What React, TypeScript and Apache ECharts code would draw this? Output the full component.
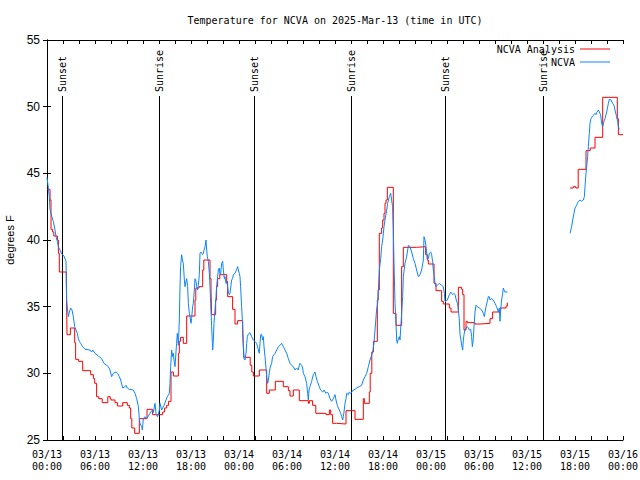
import React, { useEffect, useRef } from 'react';
import * as echarts from 'echarts';

const titleText = 'Temperature for NCVA on 2025-Mar-13 (time in UTC)';
const yAxisName = 'degrees F';
const analysisName = 'NCVA Analysis';
const obsName = 'NCVA';
const monthLabel = '03';
const firstDay = 13;
const hourMin = 0;
const hourMax = 72;
const hourStep = 6;
const tempMin = 25;
const tempMax = 55;
const tempStep = 5;

// Hours since 2025-03-13 00:00 UTC; NCVA Analysis (stepped), value holds from the given hour
const redHours = [
  0, 0.38, 0.5, 0.7, 0.85, 1.3, 1.42, 1.54, 2.42, 2.5, 2.92, 3.46, 3.58, 3.96, 4.46, 5.46, 5.8, 5.96,
  6.2, 6.46, 6.9, 7.6, 7.9, 8.0, 8.5, 8.8, 9.46, 10.04, 10.3, 10.46, 10.6, 10.96, 11.54, 12.5, 13.2,
  14.46, 14.7, 14.96, 15.2, 15.5, 15.8, 16.42, 16.54, 16.7, 17.04, 17.46, 18.5, 18.6, 19.0, 19.46,
  19.6, 20.375, 20.5, 20.58, 21.08, 21.2, 21.33, 21.6, 22.46, 22.58, 23.2, 23.5, 23.83, 24.46, 24.54,
  24.6, 25.4, 25.6, 25.8, 26.54, 27.46, 27.79, 28.54, 29.54, 30.17, 30.375, 30.79, 31.54, 32.67,
  32.79, 33.2, 33.6, 34.875, 35.29, 35.46, 35.7, 36.2, 37.375, 38.5, 39.54, 39.67, 40.29, 40.4,
  40.6, 40.8, 41.29, 41.4, 41.54, 41.83, 41.96, 42.125, 42.25, 42.375, 42.54, 43.29, 43.625, 44.33,
  44.54, 46.2, 47.33, 47.54, 47.67, 48.375, 48.625, 49.33, 49.54, 50.29, 50.5, 51.42, 51.83, 51.96,
  52.125, 52.375, 52.54, 53.5, 54.125, 55.375, 55.7, 56.625, 57.375, 57.54,
  57.6,
  65.375, 65.8, 66.1, 66.4, 67.375, 67.9, 68.5, 69.46, 71.29, 71.42, 72,
];
const redTemps: (number | null)[] = [
  43.8, 43.0, 40.8, 40.6, 40.3, 40.0, 39.0, 37.6, 36.7, 32.9, 33.4, 32.3, 31.05, 30.9, 30.2, 29.9, 29.6, 29.25,
  28.25, 28.1, 27.8, 28.25, 28.1, 28.0, 27.8, 27.55, 27.8, 27.6, 27.4, 26.6, 25.9, 25.5, 26.6, 27.3, 26.9,
  27.1, 27.4, 27.6, 27.9, 30.1, 29.8, 31.5, 32.4, 32.7, 32.25, 34.3, 35.5, 36.4, 36.5, 37.75,
  38.5, 37.1, 36.25, 34.4, 35.5, 36.5, 37.1, 37.4, 36.9, 35.75, 34.8, 33.7, 33.95, 33.0, 32.0,
  31.2, 30.6, 30.1, 29.8, 30.25, 28.5, 28.75, 29.4, 29.0, 28.7, 28.3, 28.75, 27.95, 27.75,
  27.95, 27.6, 27.0, 26.9, 27.25, 26.9, 26.25, 26.2, 27.2, 26.55, 28.1, 27.75, 28.6, 30.0,
  31.6, 32.4, 35.5, 36.25, 40.5, 40.9, 41.5, 42.0, 42.75, 43.0, 43.95, 34.5, 33.6, 38.0,
  39.45, 39.5, 38.9, 38.5, 38.2, 36.75, 36.2, 35.4, 35.2, 34.9, 34.6, 36.45, 36.3, 35.9,
  33.25, 33.9, 33.8, 33.7, 33.75, 34.1, 34.6, 34.9, 35.05, 35.3,
  null,
  43.9, 44.0, 43.9, 45.3, 46.7, 46.9, 47.7, 50.7, 49.1, 47.9, 47.9,
];

// NCVA observations
const blueHours = [
  0, 0.17, 0.29, 0.375, 0.58, 0.79, 1.0, 1.125, 1.29, 1.42, 1.625, 1.83, 2.125, 2.375, 2.46, 2.54, 2.67,
  2.79, 2.96, 3.125, 3.29, 3.46, 3.625, 3.79, 3.92, 4.04, 4.21, 4.46, 4.75, 5.375, 5.58, 5.71, 6.0, 6.42,
  6.83, 7.125, 7.46, 7.67, 7.875, 8.08, 8.29, 8.625, 8.83, 9.04, 9.21, 9.46, 9.75, 9.875, 10.04, 10.29,
  10.79, 11.0, 11.21, 11.42, 11.54, 11.625, 11.83, 11.92, 12.04, 12.25, 12.46, 12.67, 12.875, 13.08,
  13.29, 13.5, 13.625, 13.79, 13.92, 14.04, 14.125, 14.33, 14.625, 14.875, 15.04, 15.29, 15.375, 15.46,
  15.58, 15.71, 15.79, 15.875, 16.0, 16.2, 16.29, 16.42, 16.54, 16.625, 16.7, 16.83, 16.92, 17.04, 17.17,
  17.25, 17.375, 17.46, 17.58, 17.67, 17.79, 17.875, 18.0, 18.08, 18.2, 18.29, 18.42, 18.5, 18.625, 18.71,
  18.83, 18.92, 19.04, 19.125, 19.25, 19.33, 19.46, 19.54, 19.625, 19.75, 19.875, 19.96, 20.04, 20.17,
  20.29, 20.375, 20.46, 20.58, 20.67, 20.71, 20.79, 20.875, 21.0, 21.125, 21.2, 21.33, 21.42, 21.54,
  21.625, 21.71, 21.83, 21.96, 22.04, 22.17, 22.25, 22.375, 22.46, 22.58, 22.67, 22.79, 22.875, 23.0,
  23.08, 23.2, 23.29, 23.5, 23.71, 23.83, 23.92, 24.04, 24.125, 24.2, 24.33, 24.46, 24.54, 24.625, 24.75,
  24.875, 24.96, 25.04, 25.17, 25.375, 25.58, 25.79, 26.0, 26.2, 26.42, 26.54, 26.625, 26.71, 26.83,
  26.96, 27.04, 27.125, 27.25, 27.375, 27.46, 27.58, 27.67, 27.79, 27.875, 28.08, 28.2, 28.5, 28.71,
  28.92, 29.125, 29.33, 29.54, 29.75, 29.96, 30.17, 30.375, 30.58, 30.79, 31.0, 31.2, 31.4, 31.54,
  31.625, 31.83, 31.96, 32.04, 32.25, 32.46, 32.58, 32.67, 32.75, 32.875, 33.08, 33.29, 33.5, 33.625,
  33.79, 34.04, 34.2, 34.46, 34.625, 34.875, 35.04, 35.17, 35.375, 35.58, 35.79, 36.0, 36.125, 36.29,
  36.42, 36.54, 36.71, 36.83, 36.96, 37.04, 37.125, 37.25, 37.375, 37.46, 37.67, 37.79, 37.96, 38.29,
  38.5, 38.71, 39.04, 39.33, 39.54, 39.75, 39.96, 40.17, 40.375, 40.71, 40.875, 41.0, 41.2, 41.33,
  41.42, 41.54, 41.71, 41.83, 41.96, 42.125, 42.25, 42.46, 42.58, 42.79, 42.96, 43.08, 43.2, 43.29,
  43.375, 43.5, 43.625, 43.71, 43.79, 43.92, 44.04, 44.125, 44.2, 44.33, 44.46, 44.54, 44.75, 44.96,
  45.17, 45.375, 45.58, 45.79, 46.0, 46.2, 46.42, 46.625, 46.83, 47.04, 47.125, 47.25, 47.375, 47.54,
  47.67, 47.79, 47.96, 48.08, 48.2, 48.29, 48.42, 48.5, 48.625, 48.79, 49.04, 49.33, 49.54, 49.67,
  49.75, 49.875, 50.04, 50.29, 50.46, 50.58, 50.71, 50.875, 51.0, 51.2, 51.33, 51.42, 51.54, 51.625,
  51.75, 51.83, 51.96, 52.04, 52.125, 52.25, 52.375, 52.54, 52.67, 52.79, 52.96, 53.08, 53.17, 53.29,
  53.375, 53.5, 53.625, 53.79, 54.04, 54.33, 54.54, 54.67, 54.75, 54.875, 55.04, 55.17, 55.29, 55.375,
  55.58, 55.79, 56.0, 56.2, 56.33, 56.42, 56.54, 56.625, 56.71, 56.83, 56.96, 57.04, 57.125, 57.25,
  57.54,
  60,
  65.375, 65.58, 65.71, 65.875, 66.0, 66.2, 66.42, 66.625, 66.83, 67.04, 67.17, 67.25, 67.375, 67.46,
  67.58, 67.67, 67.79, 67.875, 68.0, 68.2, 68.375, 68.5, 68.625, 68.71, 68.92, 69.04, 69.2, 69.33,
  69.46, 69.625, 69.75, 69.96, 70.17, 70.29, 70.5, 70.71, 70.875, 71.0, 71.2, 71.33, 71.42, 71.54,
];
const blueTemps: (number | null)[] = [
  44.7, 43.9, 43.25, 42.3, 41.8, 41.4, 40.75, 40.25, 39.9, 39.5, 39.25, 38.95, 38.8, 38.4, 35.5, 34.9, 34.25,
  34.6, 34.9, 34.75, 34.25, 33.5, 33.25, 33.0, 32.6, 32.4, 32.25, 32.0, 31.8, 31.75, 31.6, 31.75, 31.5, 31.3,
  31.1, 30.75, 30.6, 30.5, 30.25, 29.75, 30.0, 30.1, 30.0, 29.75, 29.5, 28.9, 29.0, 29.1, 28.9, 28.8,
  28.75, 28.5, 28.1, 27.5, 26.6, 26.25, 26.0, 25.75, 26.6, 26.75, 26.6, 26.8, 27.0, 27.2,
  27.05, 27.75, 27.0, 26.75, 26.9, 27.25, 27.75, 27.25, 27.6, 28.0, 28.25, 28.5, 29.25, 30.5,
  31.75, 31.25, 31.5, 31.0, 30.5, 32.25, 33.0, 32.1, 34.0, 36.5, 38.0, 38.9, 38.5, 38.25, 37.0,
  36.5, 36.9, 37.1, 36.5, 35.25, 34.5, 34.25, 33.75, 34.1, 35.0, 35.25, 36.25, 37.1, 36.9, 36.5,
  36.25, 36.6, 37.4, 39.0, 39.1, 39.0, 38.9, 39.0, 39.25, 39.5, 40.0, 39.25, 38.75, 38.4,
  37.5, 36.5, 35.25, 33.5, 32.25, 31.75, 32.5, 33.75, 34.75, 35.75, 36.5, 37.25, 37.75, 37.9,
  37.4, 37.5, 38.25, 38.4, 37.75, 37.1, 37.25, 36.75, 36.9, 36.5, 36.1, 35.9, 36.0, 36.6,
  37.0, 37.1, 37.4, 37.5, 37.8, 38.0, 37.75, 37.5, 37.25, 36.5, 35.0, 33.5, 32.25, 31.1, 31.0,
  31.5, 32.25, 32.75, 32.95, 33.05, 32.75, 32.5, 32.4, 32.25, 31.75, 31.5, 32.25, 32.9, 32.9,
  32.5, 32.75, 32.0, 31.25, 30.4, 29.75, 29.25, 29.5, 30.0, 30.4, 30.75, 31.25, 31.5, 31.75,
  32.0, 32.1, 32.25, 32.0, 31.75, 31.5, 31.1, 30.75, 30.6, 30.5, 30.25, 30.4, 30.25, 30.6,
  30.75, 30.6, 30.4, 30.0, 29.75, 29.25, 28.5, 28.0, 28.75, 29.0, 29.4, 29.9, 30.1, 29.75,
  29.4, 29.0, 28.75, 28.6, 28.75, 28.5, 28.6, 28.5, 28.1, 27.9, 28.1, 28.4, 28.0, 27.6,
  27.4, 27.25, 27.0, 26.75, 26.5, 26.75, 27.1, 27.75, 28.1, 28.5, 28.4, 28.6, 28.5, 28.75,
  28.8, 28.9, 29.0, 29.1, 29.5, 29.75, 30.0, 30.5, 31.0, 31.6, 32.25, 33.25, 34.75, 35.25,
  36.25, 37.75, 38.6, 39.5, 40.0, 41.0, 41.5, 42.25, 42.75, 43.25, 43.5, 43.0, 42.5, 40.75,
  38.25, 35.25, 33.75, 32.5, 32.25, 32.6, 32.75, 32.5, 33.25, 34.5, 35.75, 37.25, 38.25, 38.75,
  39.6, 39.5, 39.1, 38.6, 38.25, 37.75, 37.25, 37.4, 37.75, 38.5, 40.25, 40.0, 39.5, 38.6,
  38.6, 39.0, 39.1, 38.9, 38.4, 37.75, 37.25, 36.75, 36.5, 36.6, 36.75, 36.6, 36.5, 36.0,
  35.4, 35.4, 35.5, 35.9, 36.1, 36.0, 35.9, 36.0, 35.9, 35.4, 35.25, 34.75, 34.0, 32.9,
  32.5, 32.1, 31.75, 32.5, 32.9, 33.3, 33.4, 33.5, 33.4, 33.25, 33.3, 32.75, 32.0, 32.6,
  33.5, 34.6, 35.1, 35.0, 34.9, 34.75, 34.5, 34.25, 34.6, 35.0, 35.4, 35.75, 35.75, 35.5,
  35.6, 35.5, 35.25, 35.0, 34.75, 34.6, 34.9, 33.9, 34.75, 35.5, 36.0, 36.4, 36.25, 36.1,
  36.1,
  null,
  40.5, 41.0, 41.5, 42.0, 42.4, 42.6, 42.9, 43.0, 42.9, 43.0, 43.25, 44.0, 45.0, 45.5,
  46.25, 47.0, 48.0, 48.75, 49.1, 49.3, 49.4, 49.5, 49.4, 49.55, 49.75, 49.6, 49.4, 48.75,
  48.5, 48.9, 49.1, 49.6, 50.25, 50.55, 50.5, 50.25, 50.1, 49.75, 49.25, 48.9, 48.5, 48.3,
];

const sunHours = [1.93, 14.05, 25.92, 38.02, 49.8, 62.04];
const sunLabels = ['Sunset', 'Sunrise', 'Sunset', 'Sunrise', 'Sunset', 'Sunrise'];

const MONO = '"DejaVu Sans Mono", monospace';
const SANS = '"Liberation Sans", Arial, sans-serif';
const RED = '#ff0000';
const BLUE = '#0a84ff';

function pairs(hs: number[], vs: (number | null)[]) {
  return hs.map((h, i) => [h, vs[i] === null ? '-' : vs[i]]);
}

function hourLabel(v: number) {
  const h = Math.round(v);
  const d = firstDay + Math.floor(h / 24);
  const hh = h % 24;
  return `${monthLabel}/${d}\n${String(hh).padStart(2, '0')}:00`;
}

export default function App() {
  const ref = useRef<HTMLDivElement>(null);
  useEffect(() => {
    if (!ref.current) return;
    const chart = echarts.init(ref.current, undefined, { renderer: 'svg' });
    const axisLineStyle = { color: '#000', width: 1 };
    const baseX = {
      type: 'value' as const,
      min: hourMin,
      max: hourMax,
      interval: hourStep,
      axisLine: { show: true, lineStyle: axisLineStyle },
      axisTick: { show: true, inside: true, length: 4, lineStyle: axisLineStyle },
      minorTick: { show: true, splitNumber: 3, length: 4, lineStyle: axisLineStyle },
      splitLine: { show: false },
      minorSplitLine: { show: false },
    };
    const baseY = {
      type: 'value' as const,
      min: tempMin,
      max: tempMax,
      interval: tempStep,
      axisLine: { show: true, lineStyle: axisLineStyle },
      axisTick: { show: true, inside: true, length: 4, lineStyle: axisLineStyle },
      splitLine: { show: false },
    };
    chart.setOption({
      animation: false,
      backgroundColor: '#fff',
      grid: {
        left: 47,
        right: 17,
        top: 40,
        bottom: 40,
        containLabel: false,
        outerBoundsMode: 'none',
      },
      graphic: [
        {
          type: 'text',
          x: 335,
          y: 20,
          style: {
            text: titleText,
            font: `10px ${MONO}`,
            fill: '#000',
            align: 'center',
            verticalAlign: 'middle',
          },
        },
      ],
      legend: [
        {
          data: [analysisName],
          right: 30,
          top: 44,
          align: 'right',
          icon: 'rect',
          itemWidth: 30,
          itemHeight: 1,
          padding: 0,
          selectedMode: false,
          textStyle: { fontFamily: MONO, fontSize: 10, color: '#000' },
        },
        {
          data: [obsName],
          right: 30,
          top: 57,
          align: 'right',
          icon: 'rect',
          itemWidth: 30,
          itemHeight: 1,
          padding: 0,
          selectedMode: false,
          textStyle: { fontFamily: MONO, fontSize: 10, color: '#000' },
        },
      ],
      xAxis: [
        {
          ...baseX,
          position: 'bottom',
          axisLabel: {
            show: true,
            formatter: hourLabel,
            fontFamily: MONO,
            fontSize: 10,
            lineHeight: 12,
            color: '#000',
            margin: 8,
            showMinLabel: true,
            showMaxLabel: true,
          },
        },
        { ...baseX, position: 'top', axisLabel: { show: false } },
      ],
      yAxis: [
        {
          ...baseY,
          position: 'left',
          name: yAxisName,
          nameLocation: 'middle',
          nameRotate: 90,
          nameGap: 31,
          nameTextStyle: { fontFamily: SANS, fontSize: 11, color: '#000' },
          axisLabel: { show: true, fontFamily: SANS, fontSize: 12, color: '#000', margin: 7 },
        },
        { ...baseY, position: 'right', axisLabel: { show: false } },
      ],
      series: [
        {
          type: 'custom',
          name: 'sun',
          silent: true,
          z: 1,
          xAxisIndex: 0,
          yAxisIndex: 0,
          data: sunHours.map((h) => [h, tempMin]),
          renderItem: (params: any, api: any) => {
            const t = api.value(0);
            const bottom = api.coord([t, tempMin]);
            const top = api.coord([t, tempMax]);
            const x = Math.round(bottom[0]) + 0.5;
            return {
              type: 'group',
              children: [
                {
                  type: 'line',
                  shape: { x1: x, y1: bottom[1], x2: x, y2: top[1] + 56 },
                  style: { stroke: '#000', lineWidth: 1 },
                },
                {
                  type: 'text',
                  x: x,
                  y: top[1] + 52,
                  rotation: Math.PI / 2,
                  style: {
                    text: sunLabels[params.dataIndex],
                    font: `10px ${MONO}`,
                    fill: '#000',
                    align: 'left',
                    verticalAlign: 'middle',
                  },
                },
              ],
            };
          },
        },
        {
          type: 'line',
          name: analysisName,
          step: 'end',
          symbol: 'none',
          z: 3,
          color: RED,
          lineStyle: { color: RED, width: 1 },
          data: pairs(redHours, redTemps),
        },
        {
          type: 'line',
          name: obsName,
          symbol: 'none',
          z: 4,
          color: BLUE,
          lineStyle: { color: BLUE, width: 1 },
          data: pairs(blueHours, blueTemps),
        },
      ],
    });
    return () => chart.dispose();
  }, []);
  return <div ref={ref} style={{ width: 640, height: 480, position: 'absolute', left: 0, top: 0 }} />;
}
